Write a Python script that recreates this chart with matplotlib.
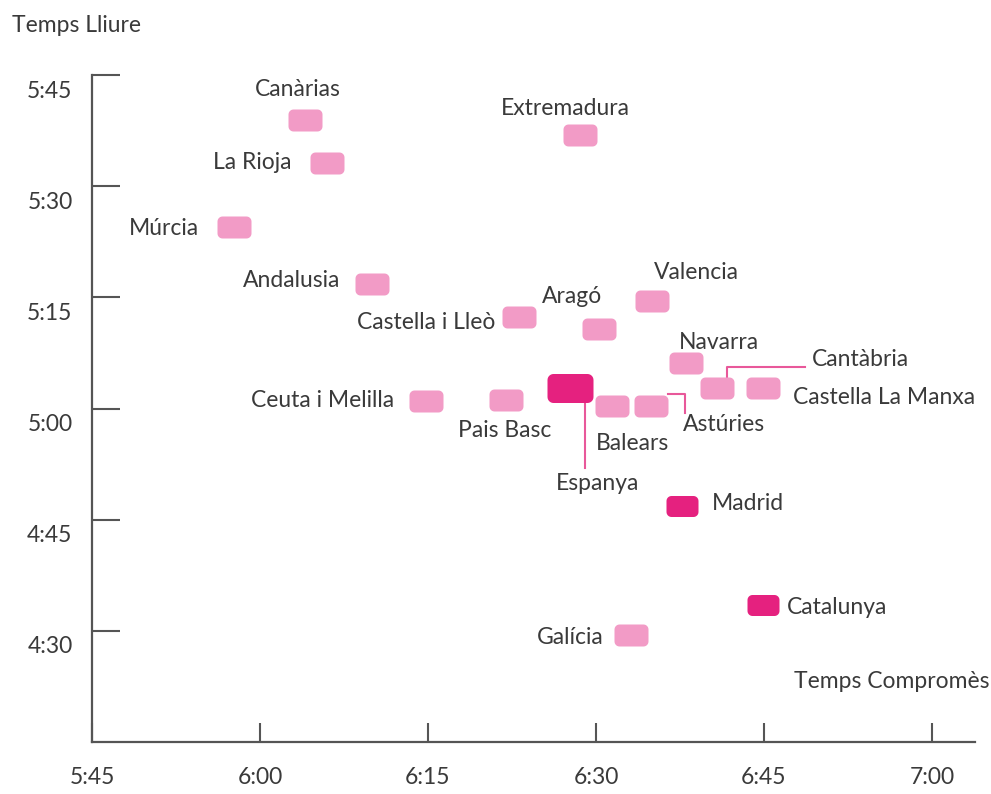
import numpy as np
import matplotlib.pyplot as plt
from matplotlib.path import Path
from matplotlib import transforms

plt.rcParams['font.family'] = ['Lato', 'DejaVu Sans']

# time values in minutes since 0:00 (x = Temps Compromès, y = Temps Lliure)
regions = ['Canàrias', 'La Rioja', 'Múrcia', 'Andalusia', 'Extremadura',
           'Castella i Lleò', 'Aragó', 'Valencia', 'Navarra', 'Cantàbria',
           'Castella La Manxa', 'Ceuta i Melilla', 'Pais Basc', 'Balears',
           'Astúries', 'Galícia']
x_comp = [364.0, 366.0, 357.7, 370.0, 388.6, 383.1, 390.3, 395.0, 398.0,
          400.8, 404.9, 374.8, 382.0, 391.4, 394.9, 393.1]
y_lliure = [338.9, 333.1, 324.5, 316.8, 336.9, 312.4, 310.7, 314.5, 306.1,
            302.7, 302.7, 301.0, 301.1, 300.4, 300.4, 269.5]

spain = ('Espanya', 387.7, 302.8)
highlight = ['Madrid', 'Catalunya']
x_high = [397.7, 404.9]
y_high = [286.9, 273.5]

x_ticks = [345, 360, 375, 390, 405, 420]
y_ticks = [270, 285, 300, 315, 330, 345]

light = '#f29bc6'
dark = '#e5217f'
txt = '#3a3a3a'
axcol = '#555555'
fs = 16.5


def fmt(v):
    return f"{int(v // 60)}:{int(v % 60):02d}"


def rrect(w, h, r):
    pts = []
    for cx, cy, a0 in [(w/2 - r, h/2 - r, 0), (-w/2 + r, h/2 - r, 90),
                       (-w/2 + r, -h/2 + r, 180), (w/2 - r, -h/2 + r, 270)]:
        for a in np.linspace(a0, a0 + 90, 8):
            pts.append((cx + r*np.cos(np.radians(a)), cy + r*np.sin(np.radians(a))))
    pts.append(pts[0])
    return Path(pts, closed=True)


fig = plt.figure(figsize=(9.91, 7.94), dpi=100)
ax = fig.add_axes([92/991, 52/794, 883/991, 667/794])
ax.set_xlim(345, 345 + 883*15/168)
ax.set_ylim(255, 345)

px = 0.72  # points per pixel at dpi 100
ax.scatter(x_comp, y_lliure, marker=rrect(34, 22, 5), s=(34*px)**2,
           color=light, linewidths=0, zorder=3)
ax.scatter([spain[1]], [spain[2]], marker=rrect(46, 29, 6), s=(46*px)**2,
           color=dark, linewidths=0, zorder=3)
ax.scatter(x_high, y_high, marker=rrect(32, 21, 5), s=(32*px)**2,
           color=dark, linewidths=0, zorder=3)

# label offsets in pixels: (dx, dy, ha)
offsets = {
    'Canàrias': (-7, 31, 'center'), 'La Rioja': (-36, 1, 'right'),
    'Múrcia': (-35, -2, 'right'), 'Andalusia': (-32, 3, 'right'),
    'Extremadura': (-15, 27, 'center'), 'Castella i Lleò': (-23, -6, 'right'),
    'Aragó': (-27, 33, 'center'), 'Valencia': (44, 29, 'center'),
    'Navarra': (33, 21, 'center'), 'Cantàbria': (95, 29, 'left'),
    'Castella La Manxa': (30, -9, 'left'), 'Ceuta i Melilla': (-32, 1, 'right'),
    'Pais Basc': (-2, -30, 'center'), 'Balears': (21, -38, 'center'),
    'Astúries': (32, -19, 'left'), 'Galícia': (-27, -3, 'right'),
    'Espanya': (27, -96, 'center'), 'Madrid': (30, 2, 'left'),
    'Catalunya': (24, -3, 'left'),
}

names = regions + [spain[0]] + highlight
xs = x_comp + [spain[1]] + x_high
ys = y_lliure + [spain[2]] + y_high
for n, x, y in zip(names, xs, ys):
    dx, dy, ha = offsets[n]
    ax.annotate(n, (x, y), xytext=(dx, dy), textcoords='offset pixels',
                ha=ha, va='center', fontsize=fs, color=txt, annotation_clip=False)

# leader lines, pixel offsets from the box centre
leaders = {
    'Cantàbria': ([10, 10, 88], [10, 21, 21]),
    'Astúries': ([17, 34, 34], [12, 12, -7]),
    'Espanya': ([15, 15], [-14, -80]),
}
for n, (lx, ly) in leaders.items():
    i = names.index(n)
    tr = transforms.Affine2D().scale(fig.dpi/100) + \
        transforms.ScaledTranslation(xs[i], ys[i], ax.transData)
    ax.plot(lx, ly, color='#e8589a', lw=1.5, transform=tr, zorder=2, clip_on=False)

for s in ['top', 'right']:
    ax.spines[s].set_visible(False)
for s in ['left', 'bottom']:
    ax.spines[s].set_color(axcol)
    ax.spines[s].set_linewidth(1.6)

ax.set_xticks(x_ticks)
ax.set_xticklabels([fmt(v) for v in x_ticks])
ax.set_yticks(y_ticks)
ax.set_yticklabels([fmt(v) for v in y_ticks])
ax.tick_params(axis='y', direction='in', length=20, width=1.5, color=axcol,
               pad=14, labelsize=fs, labelcolor=txt)
ax.tick_params(axis='x', direction='in', length=13.5, width=1.5, color=axcol,
               pad=18, labelsize=fs, labelcolor=txt)
for lbl in ax.get_yticklabels():
    lbl.set_transform(lbl.get_transform() +
                      transforms.ScaledTranslation(0, -14/100, fig.dpi_scale_trans))

fig.text(12/991, 1 - 25/794, 'Temps Lliure', ha='left', va='center',
         fontsize=fs, color=txt)
fig.text(989/991, 1 - 682/794, 'Temps Compromès', ha='right', va='center',
         fontsize=fs, color=txt)

fig.savefig('out.png', dpi=100)
